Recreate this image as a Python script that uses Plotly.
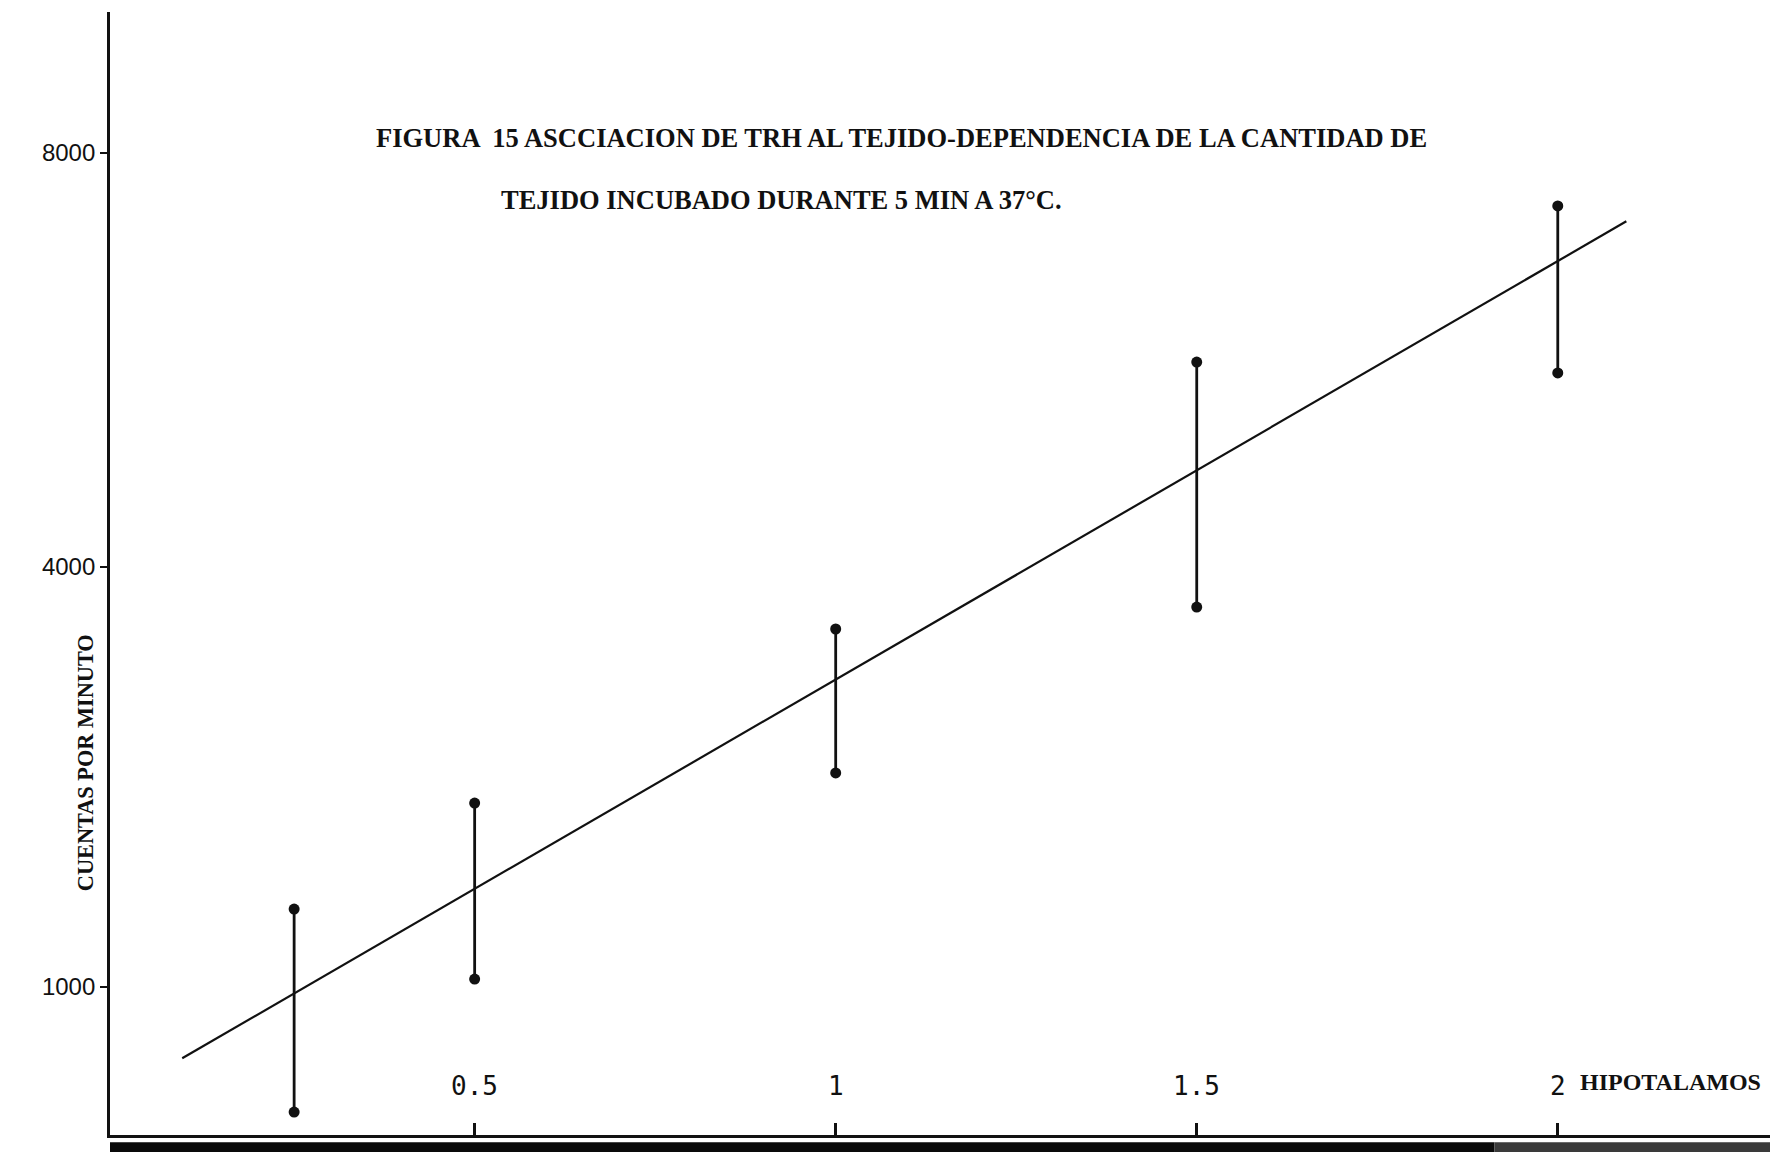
import plotly.graph_objects as go

# ---- data ----
hipotalamos = [0.25, 0.5, 1.0, 1.5, 2.0]          # amount of tissue
cpm_low = [107, 1057, 2529, 3714, 5386]           # lower end of each bar
cpm_high = [1557, 2314, 3557, 5464, 6579]         # upper end of each bar

fit_intercept = 207.0                              # drawn regression line
fit_slope = 2989.0
fit_x_span = [0.095, 2.095]

y_tick_vals = [1000, 4000, 6957]                   # drawn tick positions (axis units)
y_tick_text = ["1000", "4000", "8000"]            # labels as printed
x_tick_vals = [0.5, 1.0, 1.5, 2.0]
x_tick_text = ["0.5", "1", "1.5", "2"]

title_line1 = "FIGURA  15 ASCCIACION DE TRH AL TEJIDO-DEPENDENCIA DE LA CANTIDAD DE"
title_line2 = "TEJIDO INCUBADO DURANTE 5 MIN A 37°C."
y_title = "CUENTAS POR MINUTO"
x_unit = "HIPOTALAMOS"

# ---- build traces ----
bar_x, bar_y = [], []
for x, lo, hi in zip(hipotalamos, cpm_low, cpm_high):
    bar_x += [x, x, None]
    bar_y += [hi, lo, None]

fit_y = [fit_intercept + fit_slope * x for x in fit_x_span]

fig = go.Figure()
fig.add_trace(go.Scatter(
    x=fit_x_span, y=fit_y, mode="lines",
    line=dict(color="#111111", width=2.2), hoverinfo="skip", showlegend=False))
fig.add_trace(go.Scatter(
    x=bar_x, y=bar_y, mode="lines+markers",
    line=dict(color="#111111", width=2.8),
    marker=dict(color="#111111", size=11), showlegend=False))

serif = "Liberation Serif"
annotations = [
    dict(text=f"<b>{title_line1}</b>", xref="paper", yref="paper", x=0.1583, y=0.8878,
         xanchor="left", yanchor="middle", showarrow=False,
         font=dict(family=serif, size=26.5, color="#111111")),
    dict(text=f"<b>{title_line2}</b>", xref="paper", yref="paper", x=0.2332, y=0.8326,
         xanchor="left", yanchor="middle", showarrow=False,
         font=dict(family=serif, size=26.5, color="#111111")),
    dict(text=f"<b>{y_title}</b>", xref="paper", yref="paper", x=-0.015, y=0.332,
         xanchor="center", yanchor="middle", textangle=-90, showarrow=False,
         font=dict(family=serif, size=22.3, color="#111111")),
    dict(text=f"<b>{x_unit}</b>", xref="paper", yref="paper", x=0.880, y=0.047,
         xanchor="left", yanchor="middle", showarrow=False,
         font=dict(family=serif, size=24, color="#111111")),
]
for xv, txt in zip(x_tick_vals, x_tick_text):
    annotations.append(dict(text=txt, x=xv, xref="x", yref="paper", y=0.0436,
                            xanchor="center", yanchor="middle", showarrow=False,
                            font=dict(family="DejaVu Sans Mono", size=26, color="#111111")))

shapes = [
    dict(type="rect", xref="paper", yref="paper", x0=0.0, x1=0.83, y0=-0.03, y1=-0.0065,
         fillcolor="#0a0a0a", line=dict(width=0), layer="above"),
    dict(type="rect", xref="paper", yref="paper", x0=0.83, x1=1.0, y0=-0.03, y1=-0.0065,
         fillcolor="#3a3a3a", line=dict(width=0), layer="above"),
]

# the page body adds an 8 px offset, so the figure is 8 px smaller and margins shifted
fig.update_layout(
    width=1770, height=1144,
    margin=dict(l=102, r=0, t=4, b=17),
    paper_bgcolor="white", plot_bgcolor="white",
    annotations=annotations, shapes=shapes,
    xaxis=dict(range=[-0.005, 2.305], showgrid=False, zeroline=False,
               showline=True, linecolor="#111111", linewidth=2.5,
               tickvals=x_tick_vals, ticktext=x_tick_text, showticklabels=False,
               ticks="inside", ticklen=12, tickwidth=2.5, tickcolor="#111111"),
    yaxis=dict(range=[-57, 7964], showgrid=False, zeroline=False,
               showline=True, linecolor="#111111", linewidth=2.8,
               tickvals=y_tick_vals, ticktext=y_tick_text,
               ticks="outside", ticklen=7, tickwidth=2, tickcolor="#111111",
               tickfont=dict(family="Liberation Sans", size=24, color="#111111")),
)

fig.write_html("out.html")
